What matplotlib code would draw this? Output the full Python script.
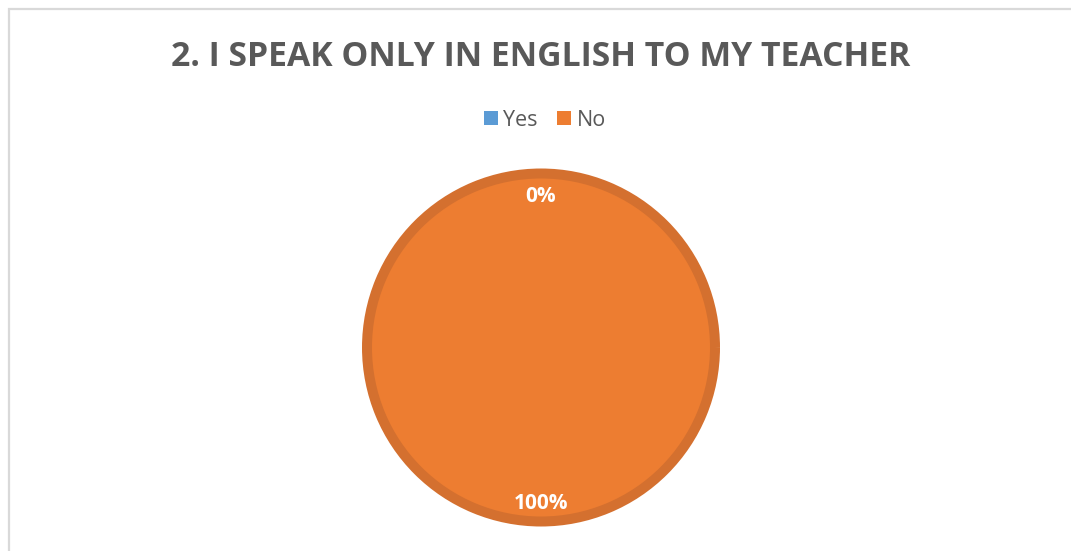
import matplotlib.pyplot as plt
from matplotlib.patches import Rectangle, Patch

labels = ["Yes", "No"]
values = [0, 100]
colors = ["#5B9BD5", "#ED7D31"]
title = "2. I SPEAK ONLY IN ENGLISH TO MY TEACHER"

W, H = 1071, 551
fig = plt.figure(figsize=(W / 100, H / 100), dpi=100)

# light grey chart-area frame (top and left edges visible)
fig.add_artist(Rectangle((8.5 / W, -0.05), 1.1, (H - 8.5) / H + 0.05,
                         transform=fig.transFigure, fill=False,
                         edgecolor="#D9D9D9", linewidth=1.6))

# square axes holding the pie: centre (541, 347.5), outer radius 179 px
cx, cy, r = 541, 347.5, 179
ax = fig.add_axes([(cx - r) / W, (H - cy - r) / H, 2 * r / W, 2 * r / H])
edge_px = 10
wedges, texts, autotexts = ax.pie(
    values, colors=colors, startangle=90, counterclock=False,
    radius=(r - edge_px / 2) / r,
    autopct=lambda p: f"{p:.0f}%", pctdistance=0.857 * r / (r - edge_px / 2),
    wedgeprops=dict(edgecolor="#D4702F", linewidth=edge_px * 0.72),
    textprops=dict(color="white", fontsize=15, fontweight="bold",
                   family="Open Sans"))
for t in autotexts:
    t.set_va("center_baseline")
# the empty slice gets no outline
wedges[0].set_linewidth(0)
ax.set_xlim(-1, 1)
ax.set_ylim(-1, 1)
ax.set_aspect("equal")
ax.axis("off")

fig.text(cx / W, 1 - 57 / H, title, ha="center", va="center",
         fontsize=24.3, fontweight="bold", color="#595959", family="Open Sans")

handles = [Patch(facecolor=c, edgecolor="none") for c in colors]
fig.legend(handles, labels, loc="center", bbox_to_anchor=(545 / W, 1 - 120 / H),
           ncol=2, frameon=False, handlelength=0.65, handleheight=0.65,
           handletextpad=0.25, columnspacing=0.9,
           prop=dict(family="Open Sans", size=15.5), labelcolor="#595959")

plt.savefig("out.png", dpi=100)
plt.close(fig)
